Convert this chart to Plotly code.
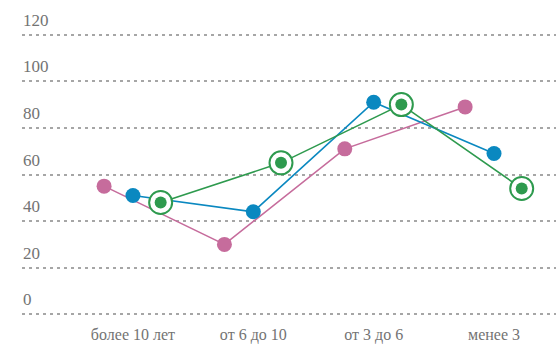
import plotly.graph_objects as go

categories = ["более 10 лет", "от 6 до 10", "от 3 до 6", "менее 3"]
pink_values = [55, 30, 71, 89]
blue_values = [51, 44, 91, 69]
green_values = [48, 65, 90, 54]
y_ticks = [0, 20, 40, 60, 80, 100, 120]

PINK = "#c66c9c"
BLUE = "#0a88c0"
GREEN = "#2e9a4e"
TEXT = "#737373"

idx = list(range(len(categories)))
x_pink = [i - 0.24 for i in idx]
x_blue = [i for i in idx]
x_green = [i + 0.23 for i in idx]

fig = go.Figure()

fig.add_trace(go.Scatter(
    x=x_pink, y=pink_values, mode="lines+markers",
    line=dict(color=PINK, width=1.6),
    marker=dict(color=PINK, size=15),
    hoverinfo="skip", showlegend=False,
))
fig.add_trace(go.Scatter(
    x=x_blue, y=blue_values, mode="lines+markers",
    line=dict(color=BLUE, width=1.6),
    marker=dict(color=BLUE, size=15),
    hoverinfo="skip", showlegend=False,
))
fig.add_trace(go.Scatter(
    x=x_green, y=green_values, mode="lines",
    line=dict(color=GREEN, width=1.6),
    hoverinfo="skip", showlegend=False,
))
# ring around each green point
fig.add_trace(go.Scatter(
    x=x_green, y=green_values, mode="markers",
    marker=dict(color="white", size=23, line=dict(color=GREEN, width=2)),
    hoverinfo="skip", showlegend=False,
))
fig.add_trace(go.Scatter(
    x=x_green, y=green_values, mode="markers",
    marker=dict(color=GREEN, size=12),
    hoverinfo="skip", showlegend=False,
))

# value labels sit just above their gridlines at the left edge
for v in y_ticks:
    fig.add_annotation(
        x=0, xref="paper", y=v, yref="y",
        text=str(v), showarrow=False,
        xanchor="left", yanchor="bottom", yshift=3, xshift=-1,
        font=dict(size=17, color=TEXT, family="Liberation Serif"),
    )

fig.update_layout(
    width=556, height=348,
    margin=dict(l=22, r=0, t=30, b=29, autoexpand=False),
    paper_bgcolor="white", plot_bgcolor="white",
    font=dict(family="Liberation Serif", color=TEXT, size=16),
    xaxis=dict(
        range=[-0.922, 3.515], automargin=False,
        tickmode="array", tickvals=idx, ticktext=categories,
        showgrid=False, zeroline=False, showline=False, ticks="",
        ticklabelstandoff=4,
        tickfont=dict(size=16, color=TEXT),
    ),
    yaxis=dict(
        range=[-2, 122], automargin=False,
        tickmode="array", tickvals=y_ticks, showticklabels=False,
        showgrid=True, gridcolor="#a6a6a6", gridwidth=1.5, griddash="3px,4px",
        zeroline=False, showline=False, ticks="",
    ),
)

fig.write_html("out.html")
